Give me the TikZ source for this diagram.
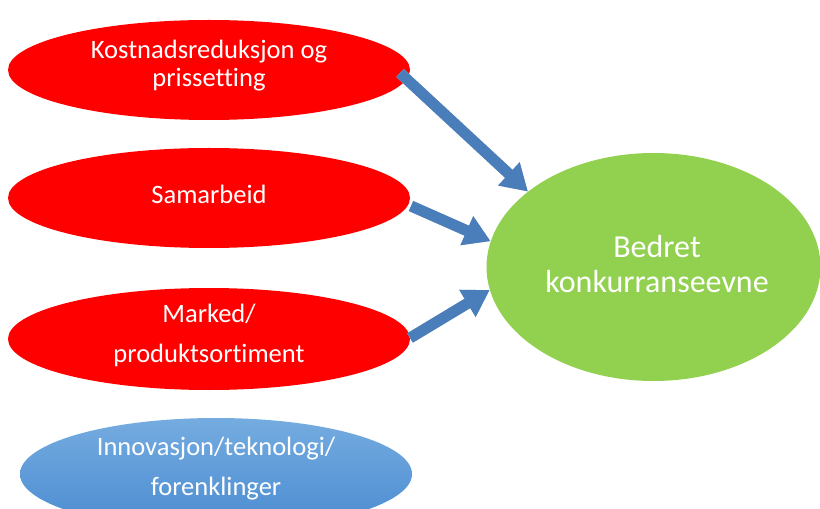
\documentclass[tikz,border=0pt]{standalone}
\usepackage{fontspec}
\setmainfont{Carlito}[Ligatures={NoCommon}]
\usetikzlibrary{shapes.geometric,arrows.meta}
\definecolor{redfill}{HTML}{FF0000}
\definecolor{greenfill}{HTML}{92D050}
\definecolor{bluetop}{HTML}{75ACE0}
\definecolor{bluebottom}{HTML}{4A8BD1}
\definecolor{arrowblue}{HTML}{4A7EBB}
\definecolor{shadowgray}{HTML}{C4C4C4}
\tikzset{
  oval/.style={ellipse, inner sep=0pt, draw=none},
  redoval/.style={oval, fill=redfill, minimum width=301.5pt, minimum height=75pt},
  label26/.style={text=white, font=\fontsize{19.9pt}{21pt}\selectfont, align=center, inner sep=0pt, anchor=base},
  blockarrow/.style={line width=8.25pt, arrowblue, -{Triangle[width=22.5pt,length=19.5pt]}},
  blockshadow/.style={line width=8.25pt, shadowgray, -{Triangle[width=22.5pt,length=19.5pt]}, shift={(2,4)}}
}
\begin{document}
\begin{tikzpicture}[x=0.75pt, y=-0.75pt]
  \useasboundingbox (0,0) rectangle (820,509);

  % driver ovals
  \node[redoval] (r1) at (209,70) {};
  \node[redoval] (r2) at (209,198) {};
  \node[redoval, minimum height=76.5pt] (r3) at (209,339) {};
  \node[oval, top color=bluetop, bottom color=bluebottom,
        minimum width=294pt, minimum height=84pt] (b1) at (216,474) {};

  % outcome oval
  \node[oval, fill=greenfill, minimum width=250.5pt, minimum height=171pt] (g) at (653.5,267) {};

  % labels (anchored at the baseline of the last line)
  \node[label26] (r1t) at (209,87) {Kostnadsreduksjon og\\prissetting};
  \node[label26] (r2t) at (209,204) {Samarbeid};
  \node[label26, font=\fontsize{19.9pt}{29.25pt}\selectfont] (r3t) at (209,362) {Marked/\\produktsortiment};
  \node[label26, font=\fontsize{19.9pt}{30pt}\selectfont] (b1t) at (216,495) {Innovasjon/teknologi/\\forenklinger};
  \node[label26, font=\fontsize{24pt}{26.25pt}\selectfont] (gt) at (657,293) {Bedret\\konkurranseevne};

  % arrow tails
  \coordinate (t1) at (400,73);
  \coordinate (t2) at (411,206);
  \coordinate (t3) at (410,338);

  % shadows, then arrows
  \draw[blockshadow] (t1) -- (g.149.8);
  \draw[blockshadow] (t2) -- (g.171.3);
  \draw[blockshadow] (t3) -- (g.188.3);
  \draw[blockarrow] (t1) -- (g.149.8);
  \draw[blockarrow] (t2) -- (g.171.3);
  \draw[blockarrow] (t3) -- (g.188.3);
\end{tikzpicture}
\end{document}
